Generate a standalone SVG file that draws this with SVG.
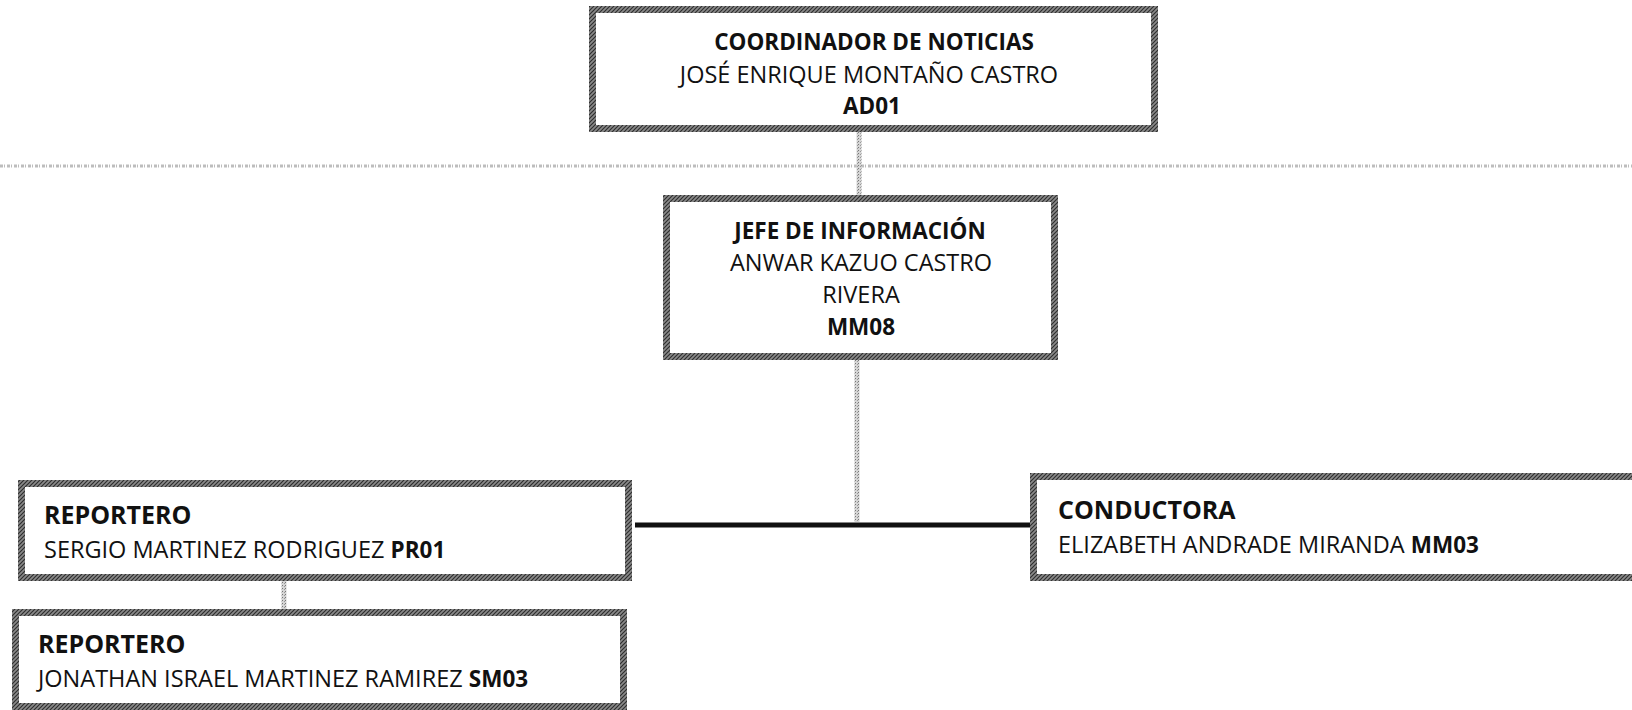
<svg xmlns="http://www.w3.org/2000/svg" width="1632" height="710" viewBox="0 0 1632 710">
<defs>
<pattern id="hatch" width="4" height="4" patternUnits="userSpaceOnUse">
<rect width="4" height="4" fill="#8a8a8a"/>
<path d="M0,4 L4,0 M-1,1 L1,-1 M3,5 L5,3" stroke="#2e2e2e" stroke-width="1.2"/>
</pattern>
<pattern id="speck" width="3" height="3" patternUnits="userSpaceOnUse">
<rect width="3" height="3" fill="#d4d4d4"/>
<rect x="0" y="0" width="1" height="1" fill="#777"/>
<rect x="2" y="1" width="1" height="1" fill="#999"/>
</pattern>
</defs>
<style>
.box{fill:#fff;stroke:url(#hatch);stroke-width:7}
.t{font-family:"Open Sans","Liberation Sans",sans-serif;font-size:23.5px;fill:#111}
.b{font-weight:bold;font-size:22.5px}
.h{font-size:25px}
.c{text-anchor:middle}
.gray{stroke:url(#speck);stroke-width:5;fill:none}
</style>
<rect width="1632" height="710" fill="#fff"/>
<g id="connectors">
<line x1="0" y1="166" x2="1632" y2="166" stroke="#bdbdbd" stroke-width="3" stroke-dasharray="3 1 1 2"/>
<line class="gray" x1="859" y1="132" x2="859" y2="196"/>
<line class="gray" x1="857" y1="359" x2="857" y2="522"/>
<line x1="635" y1="525" x2="1030" y2="525" stroke="#111" stroke-width="5"/>
<line class="gray" x1="284" y1="580" x2="284" y2="610"/>
</g>
<g id="coordinador">
<rect class="box" x="592.5" y="9.5" width="562" height="119"/>
<text class="t b c" x="874" y="50">COORDINADOR DE NOTICIAS</text>
<text class="t c" x="869" y="83">JOSÉ ENRIQUE MONTAÑO CASTRO</text>
<text class="t b c" x="872" y="114">AD01</text>
</g>
<g id="jefe">
<rect class="box" x="666.5" y="198.5" width="388" height="158"/>
<text class="t b c" x="860" y="239">JEFE DE INFORMACIÓN</text>
<text class="t c" x="861" y="271">ANWAR KAZUO CASTRO</text>
<text class="t c" x="861" y="303">RIVERA</text>
<text class="t b c" x="861" y="335">MM08</text>
</g>
<g id="reportero1">
<rect class="box" x="21.5" y="483.5" width="607" height="94"/>
<text class="t b h" x="44" y="524">REPORTERO</text>
<text class="t" x="44" y="558">SERGIO MARTINEZ RODRIGUEZ <tspan class="b">PR01</tspan></text>
</g>
<g id="reportero2">
<rect class="box" x="15.5" y="612.5" width="608" height="94"/>
<text class="t b h" x="38" y="653">REPORTERO</text>
<text class="t" x="38" y="687">JONATHAN ISRAEL MARTINEZ RAMIREZ <tspan class="b">SM03</tspan></text>
</g>
<g id="conductora">
<rect class="box" x="1033.5" y="476.5" width="610" height="101"/>
<text class="t b h" x="1058" y="519">CONDUCTORA</text>
<text class="t" x="1058" y="553">ELIZABETH ANDRADE MIRANDA <tspan class="b">MM03</tspan></text>
</g>
</svg>
